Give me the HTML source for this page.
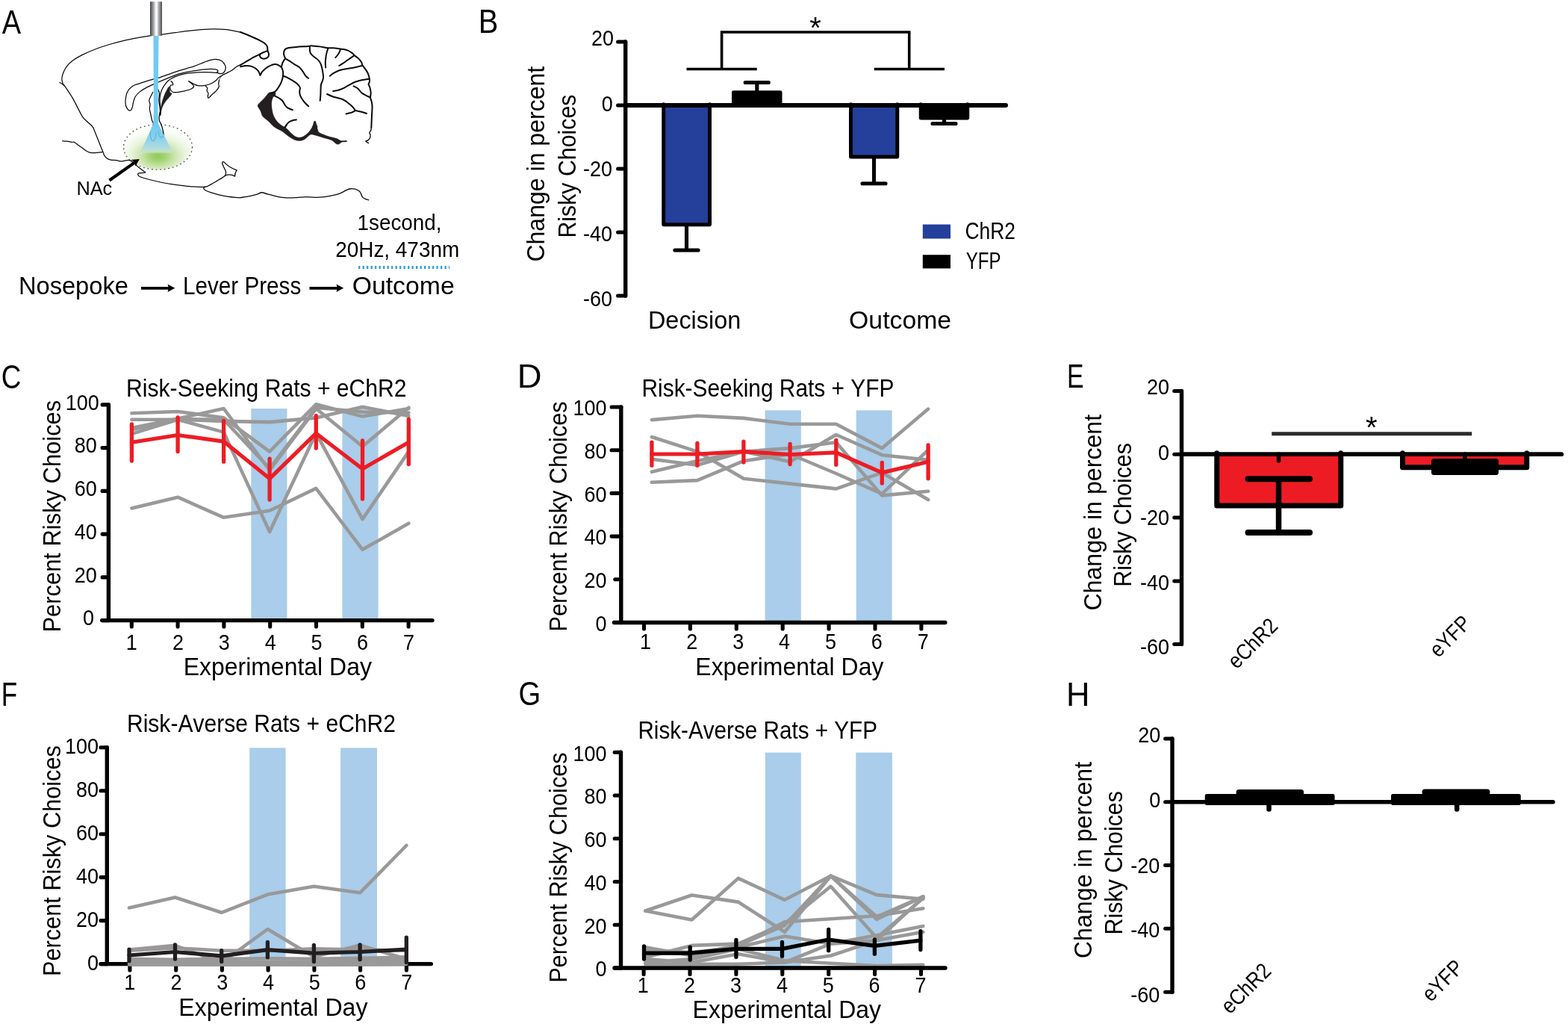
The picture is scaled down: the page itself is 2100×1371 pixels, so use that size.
<!DOCTYPE html>
<html><head><meta charset="utf-8"><title>Figure</title>
<style>
html,body{margin:0;padding:0;background:#fff;}
body{width:2100px;height:1371px;overflow:hidden;}
svg{display:block;font-family:'Liberation Sans', sans-serif;font-kerning:none;}
text{font-kerning:none;}
</style></head>
<body>
<svg width="2100" height="1371" viewBox="0 0 2100 1371">
<rect width="2100" height="1371" fill="#fff"/>
<defs>
<radialGradient id="glow" cx="0.5" cy="0.69" r="0.56" fx="0.5" fy="0.7"><stop offset="0" stop-color="#8fca55"/><stop offset="0.22" stop-color="#a6d578"/><stop offset="0.45" stop-color="#cbe5ae"/><stop offset="0.7" stop-color="#e8f3dc"/><stop offset="0.9" stop-color="#f6faf1"/><stop offset="1" stop-color="#fbfdf8"/></radialGradient>
<linearGradient id="fib" x1="0" x2="1" y1="0" y2="0"><stop offset="0" stop-color="#3e3e40"/><stop offset="0.12" stop-color="#6b6c6f"/><stop offset="0.3" stop-color="#a8a9ac"/><stop offset="0.47" stop-color="#f3f3f4"/><stop offset="0.56" stop-color="#ffffff"/><stop offset="0.7" stop-color="#b4b5b8"/><stop offset="0.88" stop-color="#77787b"/><stop offset="1" stop-color="#464648"/></linearGradient>
<linearGradient id="cone" x1="0" x2="0" y1="0" y2="1"><stop offset="0" stop-color="#6ecbf2"/><stop offset="0.45" stop-color="#86d0ee"/><stop offset="0.8" stop-color="#addbe0"/><stop offset="0.95" stop-color="#c3e3cf" stop-opacity="0.9"/><stop offset="1" stop-color="#cfe8c8" stop-opacity="0.3"/></linearGradient>
</defs>
<ellipse cx="211.5" cy="196.9" rx="45.6" ry="29.8" fill="url(#glow)"/>
<ellipse cx="211.5" cy="196.9" rx="46" ry="30.2" fill="none" stroke="#454545" stroke-width="1.3" stroke-dasharray="1.7 3.9"/>
<g transform="translate(60,0) scale(0.12476)" fill="none" stroke="#0a0a0a" stroke-width="10.0" stroke-linecap="round" stroke-linejoin="round">
<path d="M1335.0,930.0 C1340.8,934.2 1340.5,976.7 1345.0,990.0 C1349.5,1003.3 1369.5,994.2 1362.0,1010.0 C1354.5,1025.8 1316.7,1061.7 1300.0,1085.0 C1283.3,1108.3 1272.0,1126.7 1262.0,1150.0 C1252.0,1173.3 1242.0,1228.3 1240.0,1225.0 C1238.0,1221.7 1243.3,1162.5 1250.0,1130.0 C1256.7,1097.5 1270.0,1057.5 1280.0,1030.0 C1290.0,1002.5 1300.8,981.7 1310.0,965.0 C1319.2,948.3 1329.2,925.8 1335.0,930.0Z" fill="#231f20" stroke="#231f20" stroke-width="3"/>
<path d="M1905.0,806.0 C1904.2,806.8 1886.2,830.7 1880.0,840.0 C1873.8,849.3 1867.2,862.8 1868.0,862.0 C1868.8,861.2 1878.8,844.3 1885.0,835.0 C1891.2,825.7 1905.8,805.2 1905.0,806.0Z" fill="#231f20" stroke="#231f20" stroke-width="3"/>
<path d="M2100.0,345.0 C2075.0,340.5 2000.0,323.5 1950.0,318.0 C1900.0,312.5 1858.3,310.8 1800.0,312.0 C1741.7,313.2 1666.7,318.7 1600.0,325.0 C1533.3,331.3 1456.7,342.5 1400.0,350.0 C1343.3,357.5 1305.0,364.5 1260.0,370.0 C1215.0,375.5 1173.3,377.2 1130.0,383.0 C1086.7,388.8 1046.7,396.3 1000.0,405.0 C953.3,413.7 900.0,423.3 850.0,435.0 C800.0,446.7 750.0,460.0 700.0,475.0 C650.0,490.0 600.0,505.8 550.0,525.0 C500.0,544.2 441.7,569.2 400.0,590.0 C358.3,610.8 328.3,628.3 300.0,650.0 C271.7,671.7 247.5,696.7 230.0,720.0 C212.5,743.3 202.8,768.3 195.0,790.0 C187.2,811.7 183.0,831.7 183.0,850.0 C183.0,868.3 189.7,887.5 195.0,900.0 C200.3,912.5 197.5,899.2 215.0,925.0 C232.5,950.8 269.2,1001.7 300.0,1055.0 C330.8,1108.3 375.0,1204.2 400.0,1245.0 C425.0,1285.8 433.3,1283.3 450.0,1300.0 C466.7,1316.7 488.3,1333.2 500.0,1345.0 C511.7,1356.8 516.7,1366.7 520.0,1371.0"/>
<path d="M160.0,885.0 C164.2,887.5 176.7,893.8 185.0,900.0 C193.3,906.2 205.8,918.3 210.0,922.0"/>
<path d="M1240.0,830.0 C1266.7,820.3 1340.0,791.7 1400.0,772.0 C1460.0,752.3 1550.0,728.7 1600.0,712.0 C1650.0,695.3 1670.0,683.2 1700.0,672.0 C1730.0,660.8 1756.7,650.8 1780.0,645.0 C1803.3,639.2 1820.0,635.3 1840.0,637.0 C1860.0,638.7 1884.2,644.5 1900.0,655.0 C1915.8,665.5 1928.3,685.8 1935.0,700.0 C1941.7,714.2 1942.8,726.3 1940.0,740.0 C1937.2,753.7 1928.0,773.7 1918.0,782.0 C1908.0,790.3 1891.3,791.2 1880.0,790.0 C1868.7,788.8 1853.3,779.7 1850.0,775.0 C1846.7,770.3 1862.5,767.0 1860.0,762.0 C1857.5,757.0 1853.3,748.3 1835.0,745.0 C1816.7,741.7 1789.2,739.5 1750.0,742.0 C1710.8,744.5 1650.0,752.0 1600.0,760.0 C1550.0,768.0 1486.7,780.8 1450.0,790.0 C1413.3,799.2 1421.7,798.3 1380.0,815.0 C1338.3,831.7 1246.7,870.0 1200.0,890.0 C1153.3,910.0 1130.0,919.2 1100.0,935.0 C1070.0,950.8 1041.7,967.5 1020.0,985.0 C998.3,1002.5 981.7,1020.8 970.0,1040.0 C958.3,1059.2 955.0,1081.7 950.0,1100.0 C945.0,1118.3 944.7,1135.8 940.0,1150.0 C935.3,1164.2 929.5,1180.3 922.0,1185.0 C914.5,1189.7 903.3,1185.5 895.0,1178.0 C886.7,1170.5 876.8,1156.3 872.0,1140.0 C867.2,1123.7 863.8,1105.0 866.0,1080.0 C868.2,1055.0 872.7,1015.8 885.0,990.0 C897.3,964.2 917.5,940.8 940.0,925.0 C962.5,909.2 993.3,904.5 1020.0,895.0 C1046.7,885.5 1063.3,878.8 1100.0,868.0 C1136.7,857.2 1216.7,836.3 1240.0,830.0"/>
<path d="M1850.0,782.0 C1838.3,781.0 1813.3,777.0 1780.0,776.0 C1746.7,775.0 1696.7,773.3 1650.0,776.0 C1603.3,778.7 1541.7,784.3 1500.0,792.0 C1458.3,799.7 1428.3,810.3 1400.0,822.0 C1371.7,833.7 1350.0,845.7 1330.0,862.0 C1310.0,878.3 1293.3,900.3 1280.0,920.0 C1266.7,939.7 1257.5,958.3 1250.0,980.0 C1242.5,1001.7 1237.0,1025.0 1235.0,1050.0 C1233.0,1075.0 1236.3,1105.0 1238.0,1130.0 C1239.7,1155.0 1244.7,1182.5 1245.0,1200.0 C1245.3,1217.5 1240.8,1229.2 1240.0,1235.0"/>
<path d="M1355.0,870.0 C1357.8,873.3 1368.5,883.3 1372.0,890.0 C1375.5,896.7 1379.3,905.8 1376.0,910.0 C1372.7,914.2 1357.2,910.0 1352.0,915.0 C1346.8,920.0 1344.5,930.5 1345.0,940.0 C1345.5,949.5 1349.5,963.7 1355.0,972.0 C1360.5,980.3 1367.2,987.0 1378.0,990.0 C1388.8,993.0 1399.7,992.3 1420.0,990.0 C1440.3,987.7 1476.7,981.0 1500.0,976.0 C1523.3,971.0 1543.3,967.7 1560.0,960.0 C1576.7,952.3 1596.7,940.0 1600.0,930.0 C1603.3,920.0 1589.2,909.7 1580.0,900.0 C1570.8,890.3 1550.8,876.7 1545.0,872.0"/>
<path d="M1545.0,872.0 C1554.2,877.0 1582.5,894.0 1600.0,902.0 C1617.5,910.0 1630.0,917.7 1650.0,920.0 C1670.0,922.3 1698.3,919.3 1720.0,916.0 C1741.7,912.7 1761.7,907.7 1780.0,900.0 C1798.3,892.3 1815.0,881.7 1830.0,870.0 C1845.0,858.3 1857.5,840.3 1870.0,830.0 C1882.5,819.7 1883.3,819.7 1905.0,808.0 C1926.7,796.3 1974.2,775.5 2000.0,760.0 C2025.8,744.5 2043.3,725.8 2060.0,715.0 C2076.7,704.2 2093.3,698.3 2100.0,695.0"/>
<path d="M1725.0,925.0 C1728.3,928.3 1742.5,936.7 1745.0,945.0 C1747.5,953.3 1738.3,965.8 1740.0,975.0 C1741.7,984.2 1753.3,990.0 1755.0,1000.0 C1756.7,1010.0 1749.2,1026.7 1750.0,1035.0 C1750.8,1043.3 1751.7,1054.2 1760.0,1050.0 C1768.3,1045.8 1786.7,1022.5 1800.0,1010.0 C1813.3,997.5 1828.3,988.3 1840.0,975.0 C1851.7,961.7 1865.8,942.5 1870.0,930.0 C1874.2,917.5 1864.7,911.7 1865.0,900.0 C1865.3,888.3 1870.8,866.7 1872.0,860.0"/>
<path d="M1160.0,990.0 C1155.0,1000.0 1136.7,1034.7 1130.0,1050.0 C1123.3,1065.3 1120.0,1070.3 1120.0,1082.0 C1120.0,1093.7 1129.2,1105.3 1130.0,1120.0 C1130.8,1134.7 1123.7,1151.7 1125.0,1170.0 C1126.3,1188.3 1133.8,1210.0 1138.0,1230.0 C1142.2,1250.0 1145.0,1273.3 1150.0,1290.0 C1155.0,1306.7 1165.0,1323.3 1168.0,1330.0"/>
<path d="M1215.0,960.0 C1217.5,966.7 1228.3,980.0 1230.0,1000.0 C1231.7,1020.0 1224.2,1055.0 1225.0,1080.0 C1225.8,1105.0 1232.5,1124.2 1235.0,1150.0 C1237.5,1175.8 1239.2,1220.8 1240.0,1235.0"/>
</g>
<g transform="translate(322,0) scale(0.12476)" fill="none" stroke="#0a0a0a" stroke-width="16.0" stroke-linecap="round" stroke-linejoin="round">
<path d="M330.0,990.0 C341.7,987.5 362.5,980.0 370.0,985.0 C377.5,990.0 378.3,1010.0 375.0,1020.0 C371.7,1030.0 356.7,1031.7 350.0,1045.0 C343.3,1058.3 336.7,1077.5 335.0,1100.0 C333.3,1122.5 335.8,1155.0 340.0,1180.0 C344.2,1205.0 350.0,1228.3 360.0,1250.0 C370.0,1271.7 385.0,1293.3 400.0,1310.0 C415.0,1326.7 435.0,1339.8 450.0,1350.0 C465.0,1360.2 501.7,1367.5 490.0,1371.0 C478.3,1374.5 411.7,1382.8 380.0,1371.0 C348.3,1359.2 323.3,1320.2 300.0,1300.0 C276.7,1279.8 254.2,1268.3 240.0,1250.0 C225.8,1231.7 224.2,1209.2 215.0,1190.0 C205.8,1170.8 185.8,1150.0 185.0,1135.0 C184.2,1120.0 197.5,1114.2 210.0,1100.0 C222.5,1085.8 245.0,1066.7 260.0,1050.0 C275.0,1033.3 288.3,1010.0 300.0,1000.0 C311.7,990.0 318.3,992.5 330.0,990.0Z" fill="#231f20" stroke="#231f20" stroke-width="3"/>
<path d="M790.0,1305.0 C794.2,1298.3 800.8,1295.8 805.0,1300.0 C809.2,1304.2 811.7,1318.2 815.0,1330.0 C818.3,1341.8 832.5,1364.2 825.0,1371.0 C817.5,1377.8 777.5,1376.2 770.0,1371.0 C762.5,1365.8 776.7,1351.0 780.0,1340.0 C783.3,1329.0 785.8,1311.7 790.0,1305.0Z" fill="#231f20" stroke="#231f20" stroke-width="3"/>
<path d="M0.0,345.0 C16.7,351.7 66.7,370.8 100.0,385.0 C133.3,399.2 173.3,416.7 200.0,430.0 C226.7,443.3 245.3,453.3 260.0,465.0 C274.7,476.7 282.7,486.7 288.0,500.0 C293.3,513.3 289.2,531.7 292.0,545.0 C294.8,558.3 304.3,568.8 305.0,580.0 C305.7,591.2 303.2,603.7 296.0,612.0 C288.8,620.3 273.3,627.8 262.0,630.0 C250.7,632.2 237.0,629.7 228.0,625.0 C219.0,620.3 210.7,609.5 208.0,602.0 C205.3,594.5 211.3,583.7 212.0,580.0"/>
<path d="M292.0,545.0 C283.3,548.3 253.3,559.2 240.0,565.0 C226.7,570.8 227.0,572.5 212.0,580.0 C197.0,587.5 172.0,598.3 150.0,610.0 C128.0,621.7 105.0,635.3 80.0,650.0 C55.0,664.7 13.3,690.0 0.0,698.0"/>
<path d="M0.0,715.0 C10.0,713.3 40.0,705.5 60.0,705.0 C80.0,704.5 101.7,706.2 120.0,712.0 C138.3,717.8 156.7,729.5 170.0,740.0 C183.3,750.5 193.0,763.3 200.0,775.0 C207.0,786.7 207.0,810.0 212.0,810.0 C217.0,810.0 220.3,787.5 230.0,775.0 C239.7,762.5 255.0,746.7 270.0,735.0 C285.0,723.3 303.3,712.5 320.0,705.0 C336.7,697.5 355.0,690.8 370.0,690.0 C385.0,689.2 398.3,694.7 410.0,700.0 C421.7,705.3 432.5,712.0 440.0,722.0 C447.5,732.0 452.0,747.0 455.0,760.0 C458.0,773.0 458.8,785.0 458.0,800.0 C457.2,815.0 454.7,833.3 450.0,850.0 C445.3,866.7 438.3,883.3 430.0,900.0 C421.7,916.7 410.0,935.8 400.0,950.0 C390.0,964.2 381.7,976.7 370.0,985.0 C358.3,993.3 336.7,997.5 330.0,1000.0"/>
<path d="M440.0,722.0 C441.7,715.0 445.3,692.8 450.0,680.0 C454.7,667.2 462.7,653.7 468.0,645.0 C473.3,636.3 481.7,635.5 482.0,628.0 C482.3,620.5 472.8,609.7 470.0,600.0 C467.2,590.3 464.2,580.8 465.0,570.0 C465.8,559.2 467.5,544.2 475.0,535.0 C482.5,525.8 489.2,520.0 510.0,515.0 C530.8,510.0 568.3,507.8 600.0,505.0 C631.7,502.2 675.8,499.7 700.0,498.0 C724.2,496.3 735.0,496.3 745.0,495.0 C755.0,493.7 742.5,489.2 760.0,490.0 C777.5,490.8 820.0,495.8 850.0,500.0 C880.0,504.2 915.0,512.5 940.0,515.0 C965.0,517.5 977.5,513.3 1000.0,515.0 C1022.5,516.7 1050.0,520.8 1075.0,525.0 C1100.0,529.2 1129.2,532.5 1150.0,540.0 C1170.8,547.5 1186.7,560.0 1200.0,570.0 C1213.3,580.0 1218.3,590.0 1230.0,600.0 C1241.7,610.0 1258.3,618.3 1270.0,630.0 C1281.7,641.7 1293.3,658.3 1300.0,670.0 C1306.7,681.7 1303.3,688.3 1310.0,700.0 C1316.7,711.7 1330.0,725.0 1340.0,740.0 C1350.0,755.0 1362.5,772.5 1370.0,790.0 C1377.5,807.5 1382.5,830.0 1385.0,845.0 C1387.5,860.0 1386.7,870.0 1385.0,880.0 C1383.3,890.0 1374.2,895.0 1375.0,905.0 C1375.8,915.0 1385.8,924.2 1390.0,940.0 C1394.2,955.8 1399.2,982.5 1400.0,1000.0 C1400.8,1017.5 1393.3,1028.3 1395.0,1045.0 C1396.7,1061.7 1406.7,1082.5 1410.0,1100.0 C1413.3,1117.5 1415.0,1125.0 1415.0,1150.0 C1415.0,1175.0 1411.7,1213.2 1410.0,1250.0 C1408.3,1286.8 1405.8,1350.8 1405.0,1371.0"/>
<path d="M482.0,630.0 C488.3,633.3 503.7,640.0 520.0,650.0 C536.3,660.0 561.7,678.3 580.0,690.0 C598.3,701.7 615.8,708.3 630.0,720.0 C644.2,731.7 655.0,746.7 665.0,760.0 C675.0,773.3 682.5,789.2 690.0,800.0 C697.5,810.8 703.3,818.3 710.0,825.0 C716.7,831.7 726.7,837.5 730.0,840.0"/>
<path d="M455.0,815.0 C462.5,817.5 482.5,821.7 500.0,830.0 C517.5,838.3 541.7,853.3 560.0,865.0 C578.3,876.7 596.7,887.5 610.0,900.0 C623.3,912.5 635.8,926.7 640.0,940.0 C644.2,953.3 635.0,966.7 635.0,980.0 C635.0,993.3 635.8,1006.7 640.0,1020.0 C644.2,1033.3 651.7,1046.7 660.0,1060.0 C668.3,1073.3 678.3,1086.7 690.0,1100.0 C701.7,1113.3 723.3,1133.3 730.0,1140.0"/>
<path d="M745.0,500.0 C745.0,506.7 743.3,527.5 745.0,540.0 C746.7,552.5 747.5,563.3 755.0,575.0 C762.5,586.7 777.5,599.2 790.0,610.0 C802.5,620.8 818.3,628.3 830.0,640.0 C841.7,651.7 852.5,665.0 860.0,680.0 C867.5,695.0 870.8,713.3 875.0,730.0 C879.2,746.7 882.5,763.3 885.0,780.0 C887.5,796.7 890.8,815.0 890.0,830.0 C889.2,845.0 884.2,856.7 880.0,870.0 C875.8,883.3 868.0,895.0 865.0,910.0 C862.0,925.0 862.8,941.7 862.0,960.0 C861.2,978.3 861.2,1000.0 860.0,1020.0 C858.8,1040.0 855.8,1070.0 855.0,1080.0"/>
<path d="M940.0,520.0 C937.5,528.3 929.2,551.7 925.0,570.0 C920.8,588.3 917.2,611.7 915.0,630.0 C912.8,648.3 912.0,664.2 912.0,680.0 C912.0,695.8 914.5,717.5 915.0,725.0"/>
<path d="M1075.0,530.0 C1072.5,535.8 1065.8,554.2 1060.0,565.0 C1054.2,575.8 1046.7,586.2 1040.0,595.0 C1033.3,603.8 1023.3,614.2 1020.0,618.0"/>
<path d="M1215.0,600.0 C1204.2,607.5 1169.2,631.7 1150.0,645.0 C1130.8,658.3 1115.0,670.0 1100.0,680.0 C1085.0,690.0 1066.7,700.8 1060.0,705.0"/>
<path d="M1305.0,705.0 C1290.8,708.3 1249.2,719.2 1220.0,725.0 C1190.8,730.8 1156.7,735.0 1130.0,740.0 C1103.3,745.0 1081.7,747.5 1060.0,755.0 C1038.3,762.5 1016.7,775.0 1000.0,785.0 C983.3,795.0 966.7,810.0 960.0,815.0"/>
<path d="M1380.0,848.0 C1366.7,850.0 1325.0,854.7 1300.0,860.0 C1275.0,865.3 1251.7,871.7 1230.0,880.0 C1208.3,888.3 1190.0,899.2 1170.0,910.0 C1150.0,920.8 1130.0,935.3 1110.0,945.0 C1090.0,954.7 1069.2,962.5 1050.0,968.0 C1030.8,973.5 1004.2,976.3 995.0,978.0"/>
<path d="M1215.0,925.0 C1222.5,929.2 1245.8,938.3 1260.0,950.0 C1274.2,961.7 1285.0,982.5 1300.0,995.0 C1315.0,1007.5 1334.5,1016.7 1350.0,1025.0 C1365.5,1033.3 1385.8,1041.7 1393.0,1045.0"/>
<path d="M930.0,1010.0 C941.7,1015.0 975.0,1031.7 1000.0,1040.0 C1025.0,1048.3 1058.3,1052.5 1080.0,1060.0 C1101.7,1067.5 1113.3,1074.2 1130.0,1085.0 C1146.7,1095.8 1165.8,1112.5 1180.0,1125.0 C1194.2,1137.5 1206.7,1150.0 1215.0,1160.0 C1223.3,1170.0 1232.5,1177.5 1230.0,1185.0 C1227.5,1192.5 1210.8,1200.0 1200.0,1205.0 C1189.2,1210.0 1175.8,1212.2 1165.0,1215.0 C1154.2,1217.8 1140.0,1220.8 1135.0,1222.0"/>
<path d="M1230.0,1185.0 C1241.7,1187.5 1279.2,1194.5 1300.0,1200.0 C1320.8,1205.5 1345.8,1215.0 1355.0,1218.0"/>
<path d="M370.0,1030.0 C376.7,1033.3 396.7,1041.7 410.0,1050.0 C423.3,1058.3 438.3,1066.7 450.0,1080.0 C461.7,1093.3 470.0,1116.7 480.0,1130.0 C490.0,1143.3 496.7,1151.7 510.0,1160.0 C523.3,1168.3 551.7,1176.7 560.0,1180.0"/>
<path d="M600.0,1285.0 C593.3,1286.2 573.3,1287.8 560.0,1292.0 C546.7,1296.2 531.7,1301.2 520.0,1310.0 C508.3,1318.8 497.5,1334.8 490.0,1345.0 C482.5,1355.2 477.5,1366.7 475.0,1371.0"/>
</g>
<g transform="translate(322,171) scale(0.12476)" fill="none" stroke="#0a0a0a" stroke-width="10.8" stroke-linecap="round" stroke-linejoin="round">
<path d="M380.0,0.0 C375.0,6.7 426.7,24.2 450.0,40.0 C473.3,55.8 498.3,80.0 520.0,95.0 C541.7,110.0 560.0,122.5 580.0,130.0 C600.0,137.5 621.7,140.8 640.0,140.0 C658.3,139.2 671.7,135.8 690.0,125.0 C708.3,114.2 731.7,82.5 750.0,75.0 C768.3,67.5 775.0,74.2 800.0,80.0 C825.0,85.8 870.0,100.8 900.0,110.0 C930.0,119.2 958.3,124.2 980.0,135.0 C1001.7,145.8 1016.7,168.3 1030.0,175.0 C1043.3,181.7 1050.0,178.3 1060.0,175.0 C1070.0,171.7 1076.7,159.2 1090.0,155.0 C1103.3,150.8 1132.5,152.8 1140.0,150.0 C1147.5,147.2 1145.0,139.7 1135.0,138.0 C1125.0,136.3 1097.5,143.8 1080.0,140.0 C1062.5,136.2 1051.7,122.5 1030.0,115.0 C1008.3,107.5 980.0,105.0 950.0,95.0 C920.0,85.0 870.0,67.5 850.0,55.0 C830.0,42.5 835.0,29.2 830.0,20.0 C825.0,10.8 830.0,3.3 820.0,0.0 C810.0,-3.3 783.3,-6.7 770.0,0.0 C756.7,6.7 753.3,25.8 740.0,40.0 C726.7,54.2 706.7,74.2 690.0,85.0 C673.3,95.8 656.7,103.3 640.0,105.0 C623.3,106.7 606.7,103.3 590.0,95.0 C573.3,86.7 558.3,70.8 540.0,55.0 C521.7,39.2 506.7,9.2 480.0,0.0 C453.3,-9.2 385.0,-6.7 380.0,0.0Z" fill="#231f20" stroke="#231f20" stroke-width="3"/>
<path d="M1405.0,0.0 C1404.2,5.0 1403.3,21.7 1400.0,30.0 C1396.7,38.3 1385.8,41.7 1385.0,50.0 C1384.2,58.3 1394.2,70.0 1395.0,80.0 C1395.8,90.0 1394.2,100.8 1390.0,110.0 C1385.8,119.2 1377.5,129.2 1370.0,135.0 C1362.5,140.8 1344.2,140.0 1345.0,145.0 C1345.8,150.0 1370.0,161.7 1375.0,165.0"/>
<path d="M0.0,750.0 C16.7,747.5 70.0,740.8 100.0,735.0 C130.0,729.2 158.7,721.7 180.0,715.0 C201.3,708.3 208.0,695.0 228.0,695.0 C248.0,695.0 271.3,707.5 300.0,715.0 C328.7,722.5 366.7,733.8 400.0,740.0 C433.3,746.2 466.7,750.3 500.0,752.0 C533.3,753.7 566.7,751.7 600.0,750.0 C633.3,748.3 666.7,742.3 700.0,742.0 C733.3,741.7 766.7,748.0 800.0,748.0 C833.3,748.0 866.7,745.8 900.0,742.0 C933.3,738.2 970.0,732.0 1000.0,725.0 C1030.0,718.0 1056.7,709.5 1080.0,700.0 C1103.3,690.5 1123.3,675.5 1140.0,668.0 C1156.7,660.5 1165.0,656.7 1180.0,655.0 C1195.0,653.3 1214.2,653.8 1230.0,658.0 C1245.8,662.2 1264.2,671.3 1275.0,680.0 C1285.8,688.7 1289.2,699.2 1295.0,710.0 C1300.8,720.8 1302.5,735.8 1310.0,745.0 C1317.5,754.2 1329.2,760.0 1340.0,765.0 C1350.8,770.0 1369.2,773.3 1375.0,775.0"/>
<path d="M475.0,0.0 L500.0,-30.0"/>
</g>
<g transform="translate(60,171) scale(0.12476)" fill="none" stroke="#0a0a0a" stroke-width="10.0" stroke-linecap="round" stroke-linejoin="round">
<path d="M520.0,0.0 C526.7,16.7 546.7,66.7 560.0,100.0 C573.3,133.3 589.2,173.3 600.0,200.0 C610.8,226.7 618.3,243.3 625.0,260.0 C631.7,276.7 632.5,288.3 640.0,300.0 C647.5,311.7 658.3,322.5 670.0,330.0 C681.7,337.5 693.3,341.7 710.0,345.0 C726.7,348.3 751.7,347.5 770.0,350.0 C788.3,352.5 803.3,359.7 820.0,360.0 C836.7,360.3 855.0,353.7 870.0,352.0 C885.0,350.3 895.0,345.3 910.0,350.0 C925.0,354.7 946.7,370.0 960.0,380.0 C973.3,390.0 980.0,400.8 990.0,410.0 C1000.0,419.2 1008.3,425.8 1020.0,435.0 C1031.7,444.2 1050.0,457.5 1060.0,465.0 C1070.0,472.5 1083.3,476.7 1080.0,480.0 C1076.7,483.3 1052.5,483.3 1040.0,485.0 C1027.5,486.7 1011.7,486.7 1005.0,490.0 C998.3,493.3 997.5,499.2 1000.0,505.0 C1002.5,510.8 1006.7,518.3 1020.0,525.0 C1033.3,531.7 1050.0,536.7 1080.0,545.0 C1110.0,553.3 1155.0,565.0 1200.0,575.0 C1245.0,585.0 1300.0,596.7 1350.0,605.0 C1400.0,613.3 1458.3,620.5 1500.0,625.0 C1541.7,629.5 1563.3,630.3 1600.0,632.0 C1636.7,633.7 1690.0,638.7 1720.0,635.0 C1750.0,631.3 1758.3,620.8 1780.0,610.0 C1801.7,599.2 1830.0,581.7 1850.0,570.0 C1870.0,558.3 1885.8,549.2 1900.0,540.0 C1914.2,530.8 1929.2,519.2 1935.0,515.0"/>
<path d="M190.0,142.0 C198.3,142.5 223.3,142.8 240.0,145.0 C256.7,147.2 277.5,153.3 290.0,155.0 C302.5,156.7 305.0,150.8 315.0,155.0 C325.0,159.2 335.8,170.0 350.0,180.0 C364.2,190.0 385.0,204.2 400.0,215.0 C415.0,225.8 426.7,236.7 440.0,245.0 C453.3,253.3 463.3,260.8 480.0,265.0 C496.7,269.2 521.7,270.0 540.0,270.0 C558.3,270.0 576.7,266.7 590.0,265.0 C603.3,263.3 615.0,260.8 620.0,260.0"/>
<path d="M1720.0,635.0 C1717.5,637.5 1705.0,644.2 1705.0,650.0 C1705.0,655.8 1707.5,662.5 1720.0,670.0 C1732.5,677.5 1755.0,686.7 1780.0,695.0 C1805.0,703.3 1840.0,712.8 1870.0,720.0 C1900.0,727.2 1930.0,733.3 1960.0,738.0 C1990.0,742.7 2026.7,746.0 2050.0,748.0 C2073.3,750.0 2091.7,749.7 2100.0,750.0"/>
</g>
<g transform="translate(60,171) scale(0.12476)" fill="none" stroke="#0a0a0a" stroke-width="10.4" stroke-linejoin="miter"><path d="M1935,515 Q1955,480 1930,440 Q1905,395 1905,375 Q1910,360 1925,370 Q1980,430 2060,455 Q2040,485 2040,520 Q1990,490 1935,515Z"/></g>
<rect x="201.0" y="2.2" width="16.0" height="45.8" fill="url(#fib)" stroke="none" stroke-width="0" />
<polygon points="205.2,166 212.1,166 231.8,205 187.8,205" fill="url(#cone)"/>
<polygon points="205.4,48 212.5,48 211.5,150 212.1,166.5 205.2,166.5 205.9,150" fill="#70cbf1"/>
<path d="M201.6,176.3 C201.2,184 202.5,188.5 204.9,188.7 C207.3,188.5 208.8,183 208.9,177.6 M212.1,175 C212.6,181 214.5,184 216.3,184.1 C218.5,183.5 220,180.5 220,178.9" fill="none" stroke="#5fb2dc" stroke-width="1.1"/>
<path d="M214.1,150 C213.4,154 212.1,159.9 214.1,163.1 C216.7,167.1 218,173 219,178.9" fill="none" stroke="#0a0a0a" stroke-width="1.3" stroke-linecap="round"/>
<line x1="146.5" y1="241.5" x2="181" y2="217.1" stroke="#000" stroke-width="4.1"/>
<polygon points="186.9,213 174.9,214 180.2,216.4 181.4,222.6" fill="#000"/>
<text transform="translate(102.41,260.80) scale(0.9525,1)" font-size="26.6" fill="#000" >NAc</text>
<text transform="translate(478.51,308.30) scale(0.9670,1)" font-size="28.8" fill="#000" >1second,</text>
<text transform="translate(449.20,343.70) scale(0.9625,1)" font-size="29.0" fill="#000" >20Hz, 473nm</text>
<line x1="480" y1="357.9" x2="602" y2="357.9" stroke="#2e9fd8" stroke-width="4" stroke-dasharray="2.3 3.2"/>
<text transform="translate(24.91,394.40) scale(0.9745,1)" font-size="33.5" fill="#000" >Nosepoke</text>
<text transform="translate(245.05,394.40) scale(0.8857,1)" font-size="33.5" fill="#000" >Lever Press</text>
<text transform="translate(471.70,394.40) scale(1.0081,1)" font-size="33.5" fill="#000" >Outcome</text>
<line x1="189" y1="385.8" x2="229.3" y2="385.8" stroke="#000" stroke-width="3.7"/>
<path d="M234.3,385.8 L224.5,380.6 Q226.70000000000002,385.8 224.5,391.0Z" fill="#000"/>
<line x1="414.5" y1="385.8" x2="455.2" y2="385.8" stroke="#000" stroke-width="3.7"/>
<path d="M460.2,385.8 L450.4,380.6 Q452.59999999999997,385.8 450.4,391.0Z" fill="#000"/>
<text transform="translate(2.70,45.30) scale(0.8548,1)" font-size="44.5" fill="#000" >A</text>
<rect x="888.70" y="139.75" width="61.85" height="161.05" fill="#24409a"/>
<path d="M888.70,139.75 V300.80 H950.55 V139.75" fill="none" stroke="#000" stroke-width="4.9" stroke-linecap="round" stroke-linejoin="round"/>
<line x1="919.5" y1="303.0" x2="919.5" y2="335.0" stroke="#000" stroke-width="5.1" stroke-linecap="butt" />
<line x1="903.9" y1="335.0" x2="935.1" y2="335.0" stroke="#000" stroke-width="5.1" stroke-linecap="round" />
<rect x="982.45" y="123.70" width="62.60" height="17.10" fill="#000" stroke="#000" stroke-width="4.9" stroke-linejoin="round"/>
<line x1="1013.8" y1="122.0" x2="1013.8" y2="110.5" stroke="#000" stroke-width="5.1" stroke-linecap="butt" />
<line x1="998.2" y1="110.5" x2="1029.3" y2="110.5" stroke="#000" stroke-width="5.1" stroke-linecap="round" />
<rect x="1139.45" y="139.75" width="62.35" height="70.30" fill="#24409a"/>
<path d="M1139.45,139.75 V210.05 H1201.80 V139.75" fill="none" stroke="#000" stroke-width="4.9" stroke-linecap="round" stroke-linejoin="round"/>
<line x1="1170.5" y1="212.0" x2="1170.5" y2="245.8" stroke="#000" stroke-width="5.1" stroke-linecap="butt" />
<line x1="1155.0" y1="245.8" x2="1186.0" y2="245.8" stroke="#000" stroke-width="5.1" stroke-linecap="round" />
<rect x="1233.20" y="139.75" width="62.60" height="18.30" fill="#000"/>
<path d="M1233.20,139.75 V158.05 H1295.80 V139.75" fill="none" stroke="#000" stroke-width="4.9" stroke-linecap="round" stroke-linejoin="round"/>
<line x1="1264.5" y1="160.0" x2="1264.5" y2="165.5" stroke="#000" stroke-width="5.1" stroke-linecap="butt" />
<line x1="1249.0" y1="165.5" x2="1280.0" y2="165.5" stroke="#000" stroke-width="5.1" stroke-linecap="round" />
<line x1="837.7" y1="56.0" x2="837.7" y2="396.0" stroke="#000" stroke-width="5.4" stroke-linecap="round" />
<line x1="827.6" y1="56.0" x2="837.7" y2="56.0" stroke="#000" stroke-width="5.1" stroke-linecap="round" />
<line x1="827.6" y1="141.0" x2="837.7" y2="141.0" stroke="#000" stroke-width="5.1" stroke-linecap="round" />
<line x1="827.6" y1="226.0" x2="837.7" y2="226.0" stroke="#000" stroke-width="5.1" stroke-linecap="round" />
<line x1="827.6" y1="311.0" x2="837.7" y2="311.0" stroke="#000" stroke-width="5.1" stroke-linecap="round" />
<line x1="827.6" y1="396.0" x2="837.7" y2="396.0" stroke="#000" stroke-width="5.1" stroke-linecap="round" />
<line x1="837.7" y1="141.0" x2="1347.1" y2="141.0" stroke="#000" stroke-width="5.8" stroke-linecap="round" />
<path d="M919.5,92.5 H1013.75 M1170.75,92.5 H1265 M966.6,92.5 V43 H1217.7 V92.5" fill="none" stroke="#000" stroke-width="3.6"/>
<text transform="translate(1084.20,51.30) scale(1.0000,1)" font-size="40.0" fill="#000">*</text>
<text transform="translate(791.94,61.30) scale(0.9000,1)" font-size="30.0" fill="#000">20</text>
<text transform="translate(805.63,148.80) scale(0.9000,1)" font-size="30.0" fill="#000">0</text>
<text transform="translate(781.10,235.90) scale(0.9000,1)" font-size="30.0" fill="#000">-20</text>
<text transform="translate(781.10,322.70) scale(0.9000,1)" font-size="30.0" fill="#000">-40</text>
<text transform="translate(781.10,409.60) scale(0.9000,1)" font-size="30.0" fill="#000">-60</text>
<text transform="translate(728.90,350.60) rotate(-90) scale(0.9568,1)" font-size="33.5" fill="#000">Change in percent</text>
<text transform="translate(771.00,318.60) rotate(-90) scale(0.9055,1)" font-size="33.5" fill="#000">Risky Choices</text>
<text transform="translate(867.92,440.00) scale(0.9682,1)" font-size="33.5" fill="#000" >Decision</text>
<text transform="translate(1137.10,439.60) scale(1.0081,1)" font-size="33.5" fill="#000" >Outcome</text>
<rect x="1235.8" y="300.5" width="37.2" height="19.0" fill="#24409a" stroke="none" stroke-width="0" />
<rect x="1235.8" y="341.2" width="37.2" height="18.2" fill="#000" stroke="none" stroke-width="0" />
<text transform="translate(1292.58,320.00) scale(0.8501,1)" font-size="31.0" fill="#000" >ChR2</text>
<text transform="translate(1293.76,359.70) scale(0.7745,1)" font-size="31.0" fill="#000" >YFP</text>
<text transform="translate(640.72,44.30) scale(0.8947,1)" font-size="44.5" fill="#000" >B</text>
<rect x="336.3" y="547.0" width="48.1" height="283.6" fill="#a9cdea" stroke="none" stroke-width="0" />
<rect x="458.4" y="547.0" width="48.2" height="283.6" fill="#a9cdea" stroke="none" stroke-width="0" />
<polyline points="176.4,680.4 238.1,665.7 299.6,692.8 361.1,683.8 423.3,653.9 485.5,735.8 547.3,700.7" fill="none" stroke="#999999" stroke-width="4.6" stroke-linecap="round" stroke-linejoin="round"/>
<polyline points="176.4,561.7 238.1,561.7 299.6,563.9 361.1,565.1 423.3,559.4 485.5,544.7 547.3,557.1" fill="none" stroke="#999999" stroke-width="4.6" stroke-linecap="round" stroke-linejoin="round"/>
<polyline points="176.4,553.3 238.1,551.0 299.6,559.4 361.1,604.6 423.3,541.3 485.5,557.6 547.3,547.0" fill="none" stroke="#999999" stroke-width="4.6" stroke-linecap="round" stroke-linejoin="round"/>
<polyline points="176.4,573.0 238.1,560.5 299.6,547.0 361.1,629.5 423.3,547.0 485.5,597.8 547.3,545.8" fill="none" stroke="#999999" stroke-width="4.6" stroke-linecap="round" stroke-linejoin="round"/>
<polyline points="176.4,580.9 238.1,561.7 299.6,578.6 361.1,712.1 423.3,579.8 485.5,695.1 547.3,604.6" fill="none" stroke="#999999" stroke-width="4.6" stroke-linecap="round" stroke-linejoin="round"/>
<polyline points="176.4,575.2 238.1,561.2 299.6,561.7 361.1,627.2 423.3,545.8 485.5,551.5 547.3,552.6" fill="none" stroke="#999999" stroke-width="4.6" stroke-linecap="round" stroke-linejoin="round"/>
<line x1="145.4" y1="541.9" x2="145.4" y2="830.6" stroke="#000" stroke-width="5.4" stroke-linecap="round" />
<line x1="136.8" y1="830.6" x2="579.0" y2="830.6" stroke="#000" stroke-width="5.4" stroke-linecap="round" />
<line x1="137.1" y1="830.6" x2="145.4" y2="830.6" stroke="#000" stroke-width="5.1" stroke-linecap="round" />
<line x1="137.1" y1="772.9" x2="145.4" y2="772.9" stroke="#000" stroke-width="5.1" stroke-linecap="round" />
<line x1="137.1" y1="715.1" x2="145.4" y2="715.1" stroke="#000" stroke-width="5.1" stroke-linecap="round" />
<line x1="137.1" y1="657.4" x2="145.4" y2="657.4" stroke="#000" stroke-width="5.1" stroke-linecap="round" />
<line x1="137.1" y1="599.6" x2="145.4" y2="599.6" stroke="#000" stroke-width="5.1" stroke-linecap="round" />
<line x1="137.1" y1="541.9" x2="145.4" y2="541.9" stroke="#000" stroke-width="5.1" stroke-linecap="round" />
<line x1="176.3" y1="830.6" x2="176.3" y2="839.0" stroke="#000" stroke-width="5.1" stroke-linecap="round" />
<line x1="238.1" y1="830.6" x2="238.1" y2="839.0" stroke="#000" stroke-width="5.1" stroke-linecap="round" />
<line x1="299.9" y1="830.6" x2="299.9" y2="839.0" stroke="#000" stroke-width="5.1" stroke-linecap="round" />
<line x1="361.7" y1="830.6" x2="361.7" y2="839.0" stroke="#000" stroke-width="5.1" stroke-linecap="round" />
<line x1="423.5" y1="830.6" x2="423.5" y2="839.0" stroke="#000" stroke-width="5.1" stroke-linecap="round" />
<line x1="485.3" y1="830.6" x2="485.3" y2="839.0" stroke="#000" stroke-width="5.1" stroke-linecap="round" />
<line x1="547.1" y1="830.6" x2="547.1" y2="839.0" stroke="#000" stroke-width="5.1" stroke-linecap="round" />
<line x1="176.4" y1="568.0" x2="176.4" y2="617.1" stroke="#ed1c24" stroke-width="5.3" stroke-linecap="round" />
<line x1="238.1" y1="558.9" x2="238.1" y2="604.6" stroke="#ed1c24" stroke-width="5.3" stroke-linecap="round" />
<line x1="299.6" y1="563.5" x2="299.6" y2="618.2" stroke="#ed1c24" stroke-width="5.3" stroke-linecap="round" />
<line x1="361.1" y1="614.1" x2="361.1" y2="669.1" stroke="#ed1c24" stroke-width="5.3" stroke-linecap="round" />
<line x1="423.3" y1="556.7" x2="423.3" y2="600.1" stroke="#ed1c24" stroke-width="5.3" stroke-linecap="round" />
<line x1="485.5" y1="589.9" x2="485.5" y2="668.0" stroke="#ed1c24" stroke-width="5.3" stroke-linecap="round" />
<line x1="547.3" y1="561.2" x2="547.3" y2="621.6" stroke="#ed1c24" stroke-width="5.3" stroke-linecap="round" />
<polyline points="176.4,592.2 238.1,582.5 299.6,591.1 361.1,640.8 423.3,580.2 485.5,627.7 547.3,592.2" fill="none" stroke="#ed1c24" stroke-width="5.2" stroke-linecap="round" stroke-linejoin="round"/>
<text transform="translate(111.03,837.40) scale(0.9000,1)" font-size="30.0" fill="#000">0</text>
<text transform="translate(99.74,779.66) scale(0.9000,1)" font-size="30.0" fill="#000">20</text>
<text transform="translate(99.74,721.92) scale(0.9000,1)" font-size="30.0" fill="#000">40</text>
<text transform="translate(99.74,664.18) scale(0.9000,1)" font-size="30.0" fill="#000">60</text>
<text transform="translate(99.74,606.44) scale(0.9000,1)" font-size="30.0" fill="#000">80</text>
<text transform="translate(87.79,548.70) scale(0.9000,1)" font-size="30.0" fill="#000">100</text>
<text transform="translate(168.84,869.60) scale(0.9000,1)" font-size="30.0" fill="#000">1</text>
<text transform="translate(231.01,869.60) scale(0.9000,1)" font-size="30.0" fill="#000">2</text>
<text transform="translate(292.87,869.60) scale(0.9000,1)" font-size="30.0" fill="#000">3</text>
<text transform="translate(354.67,869.60) scale(0.9000,1)" font-size="30.0" fill="#000">4</text>
<text transform="translate(416.41,869.60) scale(0.9000,1)" font-size="30.0" fill="#000">5</text>
<text transform="translate(478.11,869.60) scale(0.9000,1)" font-size="30.0" fill="#000">6</text>
<text transform="translate(539.97,869.60) scale(0.9000,1)" font-size="30.0" fill="#000">7</text>
<text transform="translate(245.66,903.80) scale(0.9543,1)" font-size="33.5" fill="#000" >Experimental Day</text>
<text transform="translate(81.00,846.55) rotate(-90) scale(0.9226,1)" font-size="33.5" fill="#000">Percent Risky Choices</text>
<text transform="translate(169.12,530.70) scale(0.8985,1)" font-size="33.5" fill="#000" >Risk-Seeking Rats + eChR2</text>
<text transform="translate(1.86,520.20) scale(0.8278,1)" font-size="44.5" fill="#000" >C</text>
<rect x="1024.6" y="549.4" width="48.2" height="284.1" fill="#a9cdea" stroke="none" stroke-width="0" />
<rect x="1146.7" y="549.4" width="47.9" height="284.1" fill="#a9cdea" stroke="none" stroke-width="0" />
<polyline points="872.9,562.1 933.9,556.7 995.9,559.9 1058.1,567.8 1119.8,567.8 1181.3,600.1 1243.1,547.6" fill="none" stroke="#999999" stroke-width="4.6" stroke-linecap="round" stroke-linejoin="round"/>
<polyline points="872.9,585.0 933.9,604.6 995.9,640.8 1058.1,647.6 1119.8,654.4 1181.3,632.9 1243.1,669.1" fill="none" stroke="#999999" stroke-width="4.6" stroke-linecap="round" stroke-linejoin="round"/>
<polyline points="872.9,614.8 933.9,622.7 995.9,604.6 1058.1,600.1 1119.8,592.2 1181.3,663.4 1243.1,657.8" fill="none" stroke="#999999" stroke-width="4.6" stroke-linecap="round" stroke-linejoin="round"/>
<polyline points="872.9,631.8 933.9,617.1 995.9,604.6 1058.1,618.2 1119.8,582.0 1181.3,609.2 1243.1,615.9" fill="none" stroke="#999999" stroke-width="4.6" stroke-linecap="round" stroke-linejoin="round"/>
<polyline points="872.9,645.8 933.9,643.1 995.9,617.1 1058.1,608.0 1119.8,634.0 1181.3,661.2 1243.1,602.4" fill="none" stroke="#999999" stroke-width="4.6" stroke-linecap="round" stroke-linejoin="round"/>
<line x1="831.8" y1="545.0" x2="831.8" y2="833.5" stroke="#000" stroke-width="5.4" stroke-linecap="round" />
<line x1="822.5" y1="833.5" x2="1265.8" y2="833.5" stroke="#000" stroke-width="5.4" stroke-linecap="round" />
<line x1="823.8" y1="833.5" x2="831.8" y2="833.5" stroke="#000" stroke-width="5.1" stroke-linecap="round" />
<line x1="823.8" y1="775.8" x2="831.8" y2="775.8" stroke="#000" stroke-width="5.1" stroke-linecap="round" />
<line x1="819.1" y1="718.1" x2="831.8" y2="718.1" stroke="#000" stroke-width="5.1" stroke-linecap="round" />
<line x1="819.1" y1="660.4" x2="831.8" y2="660.4" stroke="#000" stroke-width="5.1" stroke-linecap="round" />
<line x1="819.1" y1="602.7" x2="831.8" y2="602.7" stroke="#000" stroke-width="5.1" stroke-linecap="round" />
<line x1="819.1" y1="545.0" x2="831.8" y2="545.0" stroke="#000" stroke-width="5.1" stroke-linecap="round" />
<line x1="862.5" y1="833.5" x2="862.5" y2="841.9" stroke="#000" stroke-width="5.1" stroke-linecap="round" />
<line x1="924.4" y1="833.5" x2="924.4" y2="841.9" stroke="#000" stroke-width="5.1" stroke-linecap="round" />
<line x1="986.3" y1="833.5" x2="986.3" y2="841.9" stroke="#000" stroke-width="5.1" stroke-linecap="round" />
<line x1="1048.2" y1="833.5" x2="1048.2" y2="841.9" stroke="#000" stroke-width="5.1" stroke-linecap="round" />
<line x1="1110.1" y1="833.5" x2="1110.1" y2="841.9" stroke="#000" stroke-width="5.1" stroke-linecap="round" />
<line x1="1172.0" y1="833.5" x2="1172.0" y2="841.9" stroke="#000" stroke-width="5.1" stroke-linecap="round" />
<line x1="1233.9" y1="833.5" x2="1233.9" y2="841.9" stroke="#000" stroke-width="5.1" stroke-linecap="round" />
<line x1="872.9" y1="592.2" x2="872.9" y2="623.2" stroke="#ed1c24" stroke-width="5.3" stroke-linecap="round" />
<line x1="933.9" y1="593.3" x2="933.9" y2="623.2" stroke="#ed1c24" stroke-width="5.3" stroke-linecap="round" />
<line x1="995.9" y1="591.1" x2="995.9" y2="618.9" stroke="#ed1c24" stroke-width="5.3" stroke-linecap="round" />
<line x1="1058.1" y1="594.5" x2="1058.1" y2="621.6" stroke="#ed1c24" stroke-width="5.3" stroke-linecap="round" />
<line x1="1119.8" y1="589.3" x2="1119.8" y2="622.3" stroke="#ed1c24" stroke-width="5.3" stroke-linecap="round" />
<line x1="1181.3" y1="619.3" x2="1181.3" y2="647.1" stroke="#ed1c24" stroke-width="5.3" stroke-linecap="round" />
<line x1="1243.1" y1="596.0" x2="1243.1" y2="640.8" stroke="#ed1c24" stroke-width="5.3" stroke-linecap="round" />
<polyline points="872.9,608.0 933.9,608.0 995.9,604.6 1058.1,608.5 1119.8,605.8 1181.3,632.9 1243.1,618.2" fill="none" stroke="#ed1c24" stroke-width="5.2" stroke-linecap="round" stroke-linejoin="round"/>
<text transform="translate(797.53,844.70) scale(0.9000,1)" font-size="30.0" fill="#000">0</text>
<text transform="translate(782.54,787.00) scale(0.9000,1)" font-size="30.0" fill="#000">20</text>
<text transform="translate(782.54,729.30) scale(0.9000,1)" font-size="30.0" fill="#000">40</text>
<text transform="translate(782.54,671.60) scale(0.9000,1)" font-size="30.0" fill="#000">60</text>
<text transform="translate(782.54,613.90) scale(0.9000,1)" font-size="30.0" fill="#000">80</text>
<text transform="translate(767.49,556.20) scale(0.9000,1)" font-size="30.0" fill="#000">100</text>
<text transform="translate(856.94,869.30) scale(0.9000,1)" font-size="30.0" fill="#000">1</text>
<text transform="translate(919.21,869.30) scale(0.9000,1)" font-size="30.0" fill="#000">2</text>
<text transform="translate(981.17,869.30) scale(0.9000,1)" font-size="30.0" fill="#000">3</text>
<text transform="translate(1043.08,869.30) scale(0.9000,1)" font-size="30.0" fill="#000">4</text>
<text transform="translate(1104.91,869.30) scale(0.9000,1)" font-size="30.0" fill="#000">5</text>
<text transform="translate(1166.71,869.30) scale(0.9000,1)" font-size="30.0" fill="#000">6</text>
<text transform="translate(1228.67,869.30) scale(0.9000,1)" font-size="30.0" fill="#000">7</text>
<text transform="translate(931.36,903.80) scale(0.9535,1)" font-size="33.5" fill="#000" >Experimental Day</text>
<text transform="translate(758.60,845.43) rotate(-90) scale(0.9145,1)" font-size="33.5" fill="#000">Percent Risky Choices</text>
<text transform="translate(859.53,530.70) scale(0.8922,1)" font-size="33.5" fill="#000" >Risk-Seeking Rats + YFP</text>
<text transform="translate(692.65,519.20) scale(1.0202,1)" font-size="44.5" fill="#000" >D</text>
<rect x="334.2" y="1001.3" width="48.4" height="289.3" fill="#a9cdea" stroke="none" stroke-width="0" />
<rect x="456.1" y="1001.3" width="48.9" height="289.3" fill="#a9cdea" stroke="none" stroke-width="0" />
<line x1="143.3" y1="1000.7" x2="143.3" y2="1290.6" stroke="#000" stroke-width="5.4" stroke-linecap="round" />
<line x1="135.0" y1="1290.6" x2="577.3" y2="1290.6" stroke="#000" stroke-width="5.4" stroke-linecap="round" />
<line x1="135.0" y1="1290.6" x2="143.3" y2="1290.6" stroke="#000" stroke-width="5.1" stroke-linecap="round" />
<line x1="135.0" y1="1232.6" x2="143.3" y2="1232.6" stroke="#000" stroke-width="5.1" stroke-linecap="round" />
<line x1="135.0" y1="1174.6" x2="143.3" y2="1174.6" stroke="#000" stroke-width="5.1" stroke-linecap="round" />
<line x1="135.0" y1="1116.7" x2="143.3" y2="1116.7" stroke="#000" stroke-width="5.1" stroke-linecap="round" />
<line x1="135.0" y1="1058.7" x2="143.3" y2="1058.7" stroke="#000" stroke-width="5.1" stroke-linecap="round" />
<line x1="135.0" y1="1000.7" x2="143.3" y2="1000.7" stroke="#000" stroke-width="5.1" stroke-linecap="round" />
<line x1="173.9" y1="1290.6" x2="173.9" y2="1299.0" stroke="#000" stroke-width="5.1" stroke-linecap="round" />
<line x1="235.7" y1="1290.6" x2="235.7" y2="1299.0" stroke="#000" stroke-width="5.1" stroke-linecap="round" />
<line x1="297.4" y1="1290.6" x2="297.4" y2="1299.0" stroke="#000" stroke-width="5.1" stroke-linecap="round" />
<line x1="359.1" y1="1290.6" x2="359.1" y2="1299.0" stroke="#000" stroke-width="5.1" stroke-linecap="round" />
<line x1="420.9" y1="1290.6" x2="420.9" y2="1299.0" stroke="#000" stroke-width="5.1" stroke-linecap="round" />
<line x1="482.6" y1="1290.6" x2="482.6" y2="1299.0" stroke="#000" stroke-width="5.1" stroke-linecap="round" />
<line x1="544.4" y1="1290.6" x2="544.4" y2="1299.0" stroke="#000" stroke-width="5.1" stroke-linecap="round" />
<polyline points="173.0,1215.5 234.5,1201.5 296.7,1221.8 358.4,1197.6 420.4,1186.8 482.1,1195.3 544.3,1132.0" fill="none" stroke="#999999" stroke-width="4.6" stroke-linecap="round" stroke-linejoin="round"/>
<polyline points="173.0,1271.6 234.5,1265.9 296.7,1289.0 358.4,1244.0 420.4,1281.1 482.1,1265.5 544.3,1284.0" fill="none" stroke="#999999" stroke-width="4.6" stroke-linecap="round" stroke-linejoin="round"/>
<polyline points="173.0,1272.7 234.5,1269.3 296.7,1272.7 358.4,1272.7 420.4,1270.4 482.1,1271.6 544.3,1272.7" fill="none" stroke="#999999" stroke-width="4.6" stroke-linecap="round" stroke-linejoin="round"/>
<polyline points="173.0,1283.8 234.5,1284.7 296.7,1283.8 358.4,1283.3 420.4,1283.8 482.1,1282.9 544.3,1281.3" fill="none" stroke="#999999" stroke-width="4.6" stroke-linecap="round" stroke-linejoin="round"/>
<polyline points="173.0,1286.7 234.5,1287.6 296.7,1287.2 358.4,1288.1 420.4,1287.6 482.1,1286.7 544.3,1285.1" fill="none" stroke="#999999" stroke-width="4.6" stroke-linecap="round" stroke-linejoin="round"/>
<polyline points="173.0,1289.7 234.5,1290.3 296.7,1290.3 358.4,1289.9 420.4,1290.3 482.1,1289.9 544.3,1289.0" fill="none" stroke="#999999" stroke-width="4.6" stroke-linecap="round" stroke-linejoin="round"/>
<polyline points="173.0,1291.5 234.5,1291.5 296.7,1291.7 358.4,1291.5 420.4,1291.7 482.1,1291.5 544.3,1290.8" fill="none" stroke="#999999" stroke-width="4.6" stroke-linecap="round" stroke-linejoin="round"/>
<line x1="173.0" y1="1271.1" x2="173.0" y2="1286.7" stroke="#231f20" stroke-width="5.3" stroke-linecap="round" />
<line x1="234.5" y1="1264.8" x2="234.5" y2="1284.0" stroke="#231f20" stroke-width="5.3" stroke-linecap="round" />
<line x1="296.7" y1="1272.7" x2="296.7" y2="1287.4" stroke="#231f20" stroke-width="5.3" stroke-linecap="round" />
<line x1="358.4" y1="1261.4" x2="358.4" y2="1281.7" stroke="#231f20" stroke-width="5.3" stroke-linecap="round" />
<line x1="420.4" y1="1265.5" x2="420.4" y2="1287.4" stroke="#231f20" stroke-width="5.3" stroke-linecap="round" />
<line x1="482.1" y1="1264.8" x2="482.1" y2="1284.7" stroke="#231f20" stroke-width="5.3" stroke-linecap="round" />
<line x1="544.3" y1="1255.1" x2="544.3" y2="1288.5" stroke="#231f20" stroke-width="5.3" stroke-linecap="round" />
<polyline points="173.0,1279.0 234.5,1274.5 296.7,1279.9 358.4,1271.6 420.4,1276.1 482.1,1274.5 544.3,1271.1" fill="none" stroke="#231f20" stroke-width="5.2" stroke-linecap="round" stroke-linejoin="round"/>
<text transform="translate(117.03,1298.50) scale(0.9000,1)" font-size="30.0" fill="#000">0</text>
<text transform="translate(102.04,1240.52) scale(0.9000,1)" font-size="30.0" fill="#000">20</text>
<text transform="translate(102.04,1182.54) scale(0.9000,1)" font-size="30.0" fill="#000">40</text>
<text transform="translate(102.04,1124.56) scale(0.9000,1)" font-size="30.0" fill="#000">60</text>
<text transform="translate(102.04,1066.58) scale(0.9000,1)" font-size="30.0" fill="#000">80</text>
<text transform="translate(86.99,1008.60) scale(0.9000,1)" font-size="30.0" fill="#000">100</text>
<text transform="translate(166.34,1325.30) scale(0.9000,1)" font-size="30.0" fill="#000">1</text>
<text transform="translate(228.46,1325.30) scale(0.9000,1)" font-size="30.0" fill="#000">2</text>
<text transform="translate(290.27,1325.30) scale(0.9000,1)" font-size="30.0" fill="#000">3</text>
<text transform="translate(352.02,1325.30) scale(0.9000,1)" font-size="30.0" fill="#000">4</text>
<text transform="translate(413.71,1325.30) scale(0.9000,1)" font-size="30.0" fill="#000">5</text>
<text transform="translate(475.36,1325.30) scale(0.9000,1)" font-size="30.0" fill="#000">6</text>
<text transform="translate(537.17,1325.30) scale(0.9000,1)" font-size="30.0" fill="#000">7</text>
<text transform="translate(239.35,1359.60) scale(0.9577,1)" font-size="33.5" fill="#000" >Experimental Day</text>
<text transform="translate(80.50,1307.04) rotate(-90) scale(0.9175,1)" font-size="33.5" fill="#000">Percent Risky Choices</text>
<text transform="translate(169.92,979.80) scale(0.8976,1)" font-size="33.5" fill="#000" >Risk-Averse Rats + eChR2</text>
<text transform="translate(1.71,944.50) scale(0.7882,1)" font-size="44.5" fill="#000" >F</text>
<rect x="1024.8" y="1007.6" width="48.0" height="288.4" fill="#a9cdea" stroke="none" stroke-width="0" />
<rect x="1146.3" y="1007.6" width="48.6" height="288.4" fill="#a9cdea" stroke="none" stroke-width="0" />
<polyline points="864.3,1219.5 926.5,1198.5 988.7,1207.6 1050.9,1247.8 1112.6,1172.7 1174.1,1198.1 1236.3,1203.7" fill="none" stroke="#999999" stroke-width="4.6" stroke-linecap="round" stroke-linejoin="round"/>
<polyline points="864.3,1219.5 926.5,1231.5 988.7,1175.9 1050.9,1204.8 1112.6,1172.7 1174.1,1230.9 1236.3,1200.3" fill="none" stroke="#999999" stroke-width="4.6" stroke-linecap="round" stroke-linejoin="round"/>
<polyline points="864.3,1268.2 926.5,1279.5 988.7,1267.0 1050.9,1234.2 1112.6,1230.2 1174.1,1226.3 1236.3,1216.2" fill="none" stroke="#999999" stroke-width="4.6" stroke-linecap="round" stroke-linejoin="round"/>
<polyline points="864.3,1281.7 926.5,1265.9 988.7,1263.6 1050.9,1236.5 1112.6,1186.8 1174.1,1255.7 1236.3,1202.6" fill="none" stroke="#999999" stroke-width="4.6" stroke-linecap="round" stroke-linejoin="round"/>
<polyline points="864.3,1272.7 926.5,1275.0 988.7,1268.2 1050.9,1253.5 1112.6,1263.6 1174.1,1252.3 1236.3,1239.9" fill="none" stroke="#999999" stroke-width="4.6" stroke-linecap="round" stroke-linejoin="round"/>
<polyline points="864.3,1284.0 926.5,1288.5 988.7,1277.2 1050.9,1288.5 1112.6,1279.5 1174.1,1259.1 1236.3,1247.8" fill="none" stroke="#999999" stroke-width="4.6" stroke-linecap="round" stroke-linejoin="round"/>
<polyline points="864.3,1288.5 926.5,1284.0 988.7,1270.4 1050.9,1286.3 1112.6,1289.7 1174.1,1293.0 1236.3,1291.9" fill="none" stroke="#999999" stroke-width="4.6" stroke-linecap="round" stroke-linejoin="round"/>
<polyline points="864.3,1290.8 926.5,1290.8 988.7,1290.8 1050.9,1288.5 1112.6,1263.6 1174.1,1259.1 1236.3,1201.5" fill="none" stroke="#999999" stroke-width="4.6" stroke-linecap="round" stroke-linejoin="round"/>
<polyline points="864.3,1275.0 926.5,1277.2 988.7,1265.9 1050.9,1238.8 1112.6,1172.7 1174.1,1227.5 1236.3,1200.3" fill="none" stroke="#999999" stroke-width="4.6" stroke-linecap="round" stroke-linejoin="round"/>
<line x1="831.5" y1="1007.3" x2="831.5" y2="1296.0" stroke="#000" stroke-width="5.4" stroke-linecap="round" />
<line x1="823.0" y1="1296.0" x2="1266.0" y2="1296.0" stroke="#000" stroke-width="5.4" stroke-linecap="round" />
<line x1="823.2" y1="1296.0" x2="831.5" y2="1296.0" stroke="#000" stroke-width="5.1" stroke-linecap="round" />
<line x1="823.2" y1="1238.3" x2="831.5" y2="1238.3" stroke="#000" stroke-width="5.1" stroke-linecap="round" />
<line x1="823.2" y1="1180.5" x2="831.5" y2="1180.5" stroke="#000" stroke-width="5.1" stroke-linecap="round" />
<line x1="823.2" y1="1122.8" x2="831.5" y2="1122.8" stroke="#000" stroke-width="5.1" stroke-linecap="round" />
<line x1="823.2" y1="1065.0" x2="831.5" y2="1065.0" stroke="#000" stroke-width="5.1" stroke-linecap="round" />
<line x1="823.2" y1="1007.3" x2="831.5" y2="1007.3" stroke="#000" stroke-width="5.1" stroke-linecap="round" />
<line x1="862.1" y1="1296.0" x2="862.1" y2="1304.4" stroke="#000" stroke-width="5.1" stroke-linecap="round" />
<line x1="924.0" y1="1296.0" x2="924.0" y2="1304.4" stroke="#000" stroke-width="5.1" stroke-linecap="round" />
<line x1="985.9" y1="1296.0" x2="985.9" y2="1304.4" stroke="#000" stroke-width="5.1" stroke-linecap="round" />
<line x1="1047.8" y1="1296.0" x2="1047.8" y2="1304.4" stroke="#000" stroke-width="5.1" stroke-linecap="round" />
<line x1="1109.7" y1="1296.0" x2="1109.7" y2="1304.4" stroke="#000" stroke-width="5.1" stroke-linecap="round" />
<line x1="1171.6" y1="1296.0" x2="1171.6" y2="1304.4" stroke="#000" stroke-width="5.1" stroke-linecap="round" />
<line x1="1233.5" y1="1296.0" x2="1233.5" y2="1304.4" stroke="#000" stroke-width="5.1" stroke-linecap="round" />
<line x1="862.5" y1="1267.0" x2="862.5" y2="1284.0" stroke="#000" stroke-width="5.3" stroke-linecap="round" />
<line x1="924.2" y1="1268.2" x2="924.2" y2="1285.1" stroke="#000" stroke-width="5.3" stroke-linecap="round" />
<line x1="985.9" y1="1258.4" x2="985.9" y2="1281.3" stroke="#000" stroke-width="5.3" stroke-linecap="round" />
<line x1="1047.5" y1="1261.4" x2="1047.5" y2="1280.2" stroke="#000" stroke-width="5.3" stroke-linecap="round" />
<line x1="1109.7" y1="1244.4" x2="1109.7" y2="1272.7" stroke="#000" stroke-width="5.3" stroke-linecap="round" />
<line x1="1171.4" y1="1258.0" x2="1171.4" y2="1277.2" stroke="#000" stroke-width="5.3" stroke-linecap="round" />
<line x1="1232.9" y1="1246.7" x2="1232.9" y2="1271.6" stroke="#000" stroke-width="5.3" stroke-linecap="round" />
<polyline points="862.5,1276.1 924.2,1276.1 985.9,1270.4 1047.5,1270.4 1109.7,1258.0 1171.4,1266.4 1232.9,1259.1" fill="none" stroke="#000" stroke-width="5.2" stroke-linecap="round" stroke-linejoin="round"/>
<text transform="translate(797.53,1307.40) scale(0.9000,1)" font-size="30.0" fill="#000">0</text>
<text transform="translate(782.54,1249.66) scale(0.9000,1)" font-size="30.0" fill="#000">20</text>
<text transform="translate(782.54,1191.92) scale(0.9000,1)" font-size="30.0" fill="#000">40</text>
<text transform="translate(782.54,1134.18) scale(0.9000,1)" font-size="30.0" fill="#000">60</text>
<text transform="translate(782.54,1076.44) scale(0.9000,1)" font-size="30.0" fill="#000">80</text>
<text transform="translate(767.49,1018.70) scale(0.9000,1)" font-size="30.0" fill="#000">100</text>
<text transform="translate(853.74,1328.70) scale(0.9000,1)" font-size="30.0" fill="#000">1</text>
<text transform="translate(916.01,1328.70) scale(0.9000,1)" font-size="30.0" fill="#000">2</text>
<text transform="translate(977.98,1328.70) scale(0.9000,1)" font-size="30.0" fill="#000">3</text>
<text transform="translate(1039.88,1328.70) scale(0.9000,1)" font-size="30.0" fill="#000">4</text>
<text transform="translate(1101.71,1328.70) scale(0.9000,1)" font-size="30.0" fill="#000">5</text>
<text transform="translate(1163.51,1328.70) scale(0.9000,1)" font-size="30.0" fill="#000">6</text>
<text transform="translate(1225.47,1328.70) scale(0.9000,1)" font-size="30.0" fill="#000">7</text>
<text transform="translate(927.56,1363.20) scale(0.9551,1)" font-size="33.5" fill="#000" >Experimental Day</text>
<text transform="translate(758.50,1315.83) rotate(-90) scale(0.9157,1)" font-size="33.5" fill="#000">Percent Risky Choices</text>
<text transform="translate(854.45,989.00) scale(0.8856,1)" font-size="33.5" fill="#000" >Risk-Averse Rats + YFP</text>
<text transform="translate(694.39,943.70) scale(0.8575,1)" font-size="44.5" fill="#000" >G</text>
<rect x="1629.75" y="606.70" width="166.00" height="70.30" fill="#ed1c24"/>
<path d="M1629.75,606.70 V677.00 H1795.75 V606.70" fill="none" stroke="#000" stroke-width="7" stroke-linecap="round" stroke-linejoin="round"/>
<rect x="1878.50" y="606.70" width="166.25" height="19.05" fill="#ed1c24"/>
<path d="M1878.50,606.70 V625.75 H2044.75 V606.70" fill="none" stroke="#000" stroke-width="7" stroke-linecap="round" stroke-linejoin="round"/>
<line x1="1582.5" y1="523.5" x2="1582.5" y2="862.6" stroke="#000" stroke-width="5.4" stroke-linecap="round" />
<line x1="1572.7" y1="523.5" x2="1582.5" y2="523.5" stroke="#000" stroke-width="5.0" stroke-linecap="round" />
<line x1="1572.7" y1="608.2" x2="1582.5" y2="608.2" stroke="#000" stroke-width="5.0" stroke-linecap="round" />
<line x1="1572.7" y1="693.0" x2="1582.5" y2="693.0" stroke="#000" stroke-width="5.0" stroke-linecap="round" />
<line x1="1572.7" y1="777.9" x2="1582.5" y2="777.9" stroke="#000" stroke-width="5.0" stroke-linecap="round" />
<line x1="1572.7" y1="862.6" x2="1582.5" y2="862.6" stroke="#000" stroke-width="5.0" stroke-linecap="round" />
<line x1="1582.5" y1="608.2" x2="2091.3" y2="608.2" stroke="#000" stroke-width="5.7" stroke-linecap="round" />
<line x1="1712.5" y1="641.2" x2="1712.5" y2="713.0" stroke="#000" stroke-width="7.5" stroke-linecap="butt" />
<line x1="1671.5" y1="641.2" x2="1754.0" y2="641.2" stroke="#000" stroke-width="8" stroke-linecap="round" />
<line x1="1671.5" y1="713.0" x2="1754.0" y2="713.0" stroke="#000" stroke-width="8" stroke-linecap="round" />
<line x1="1712.5" y1="608.0" x2="1712.5" y2="617.0" stroke="#000" stroke-width="5.5" stroke-linecap="round" />
<rect x="1917" y="614.3" width="90" height="21.8" rx="4" fill="#000"/>
<line x1="1921.0" y1="618.2" x2="2003.0" y2="618.2" stroke="#000" stroke-width="8" stroke-linecap="round" />
<line x1="1921.0" y1="632.0" x2="2003.0" y2="632.0" stroke="#000" stroke-width="8" stroke-linecap="round" />
<line x1="1962.0" y1="608.0" x2="1962.0" y2="615.0" stroke="#000" stroke-width="5.5" stroke-linecap="round" />
<line x1="1703.2" y1="580.8" x2="1971.2" y2="580.8" stroke="#2b2b2b" stroke-width="5" stroke-linecap="butt" />
<text transform="translate(1828.95,586.20) scale(1.0000,1)" font-size="40.0" fill="#000">*</text>
<text transform="translate(1536.04,528.25) scale(0.9000,1)" font-size="30.0" fill="#000">20</text>
<text transform="translate(1551.03,615.95) scale(0.9000,1)" font-size="30.0" fill="#000">0</text>
<text transform="translate(1527.00,703.45) scale(0.9000,1)" font-size="30.0" fill="#000">-20</text>
<text transform="translate(1527.00,789.55) scale(0.9000,1)" font-size="30.0" fill="#000">-40</text>
<text transform="translate(1527.00,876.25) scale(0.9000,1)" font-size="30.0" fill="#000">-60</text>
<text transform="translate(1474.70,817.61) rotate(-90) scale(0.9601,1)" font-size="33.5" fill="#000">Change in percent</text>
<text transform="translate(1515.40,785.81) rotate(-90) scale(0.9088,1)" font-size="33.5" fill="#000">Risky Choices</text>
<text transform="translate(1657.00,896.00) rotate(-45) scale(0.8755,1) translate(-1.25,0)" font-size="29.5" fill="#000">eChR2</text>
<text transform="translate(1927.30,880.70) rotate(-45) scale(0.8659,1) translate(-1.25,0)" font-size="29.5" fill="#000">eYFP</text>
<text transform="translate(1428.92,519.30) scale(0.7580,1)" font-size="44.5" fill="#000" >E</text>
<rect x="1616.25" y="1065.50" width="168.75" height="10.00" fill="#000" stroke="#000" stroke-width="5" stroke-linejoin="round"/>
<rect x="1865.50" y="1065.50" width="168.75" height="10.00" fill="#000" stroke="#000" stroke-width="5" stroke-linejoin="round"/>
<line x1="1570.0" y1="989.0" x2="1570.0" y2="1328.2" stroke="#000" stroke-width="5.4" stroke-linecap="round" />
<line x1="1560.6" y1="989.0" x2="1570.0" y2="989.0" stroke="#000" stroke-width="5.0" stroke-linecap="round" />
<line x1="1560.6" y1="1073.8" x2="1570.0" y2="1073.8" stroke="#000" stroke-width="5.0" stroke-linecap="round" />
<line x1="1560.6" y1="1158.5" x2="1570.0" y2="1158.5" stroke="#000" stroke-width="5.0" stroke-linecap="round" />
<line x1="1560.6" y1="1243.3" x2="1570.0" y2="1243.3" stroke="#000" stroke-width="5.0" stroke-linecap="round" />
<line x1="1560.6" y1="1328.2" x2="1570.0" y2="1328.2" stroke="#000" stroke-width="5.0" stroke-linecap="round" />
<line x1="1570.0" y1="1073.8" x2="2080.0" y2="1073.8" stroke="#000" stroke-width="5.4" stroke-linecap="round" />
<line x1="1659.5" y1="1061.0" x2="1742.2" y2="1061.0" stroke="#000" stroke-width="8" stroke-linecap="round" />
<line x1="1908.5" y1="1060.5" x2="1991.5" y2="1060.5" stroke="#000" stroke-width="8" stroke-linecap="round" />
<line x1="1699.5" y1="1070.0" x2="1699.5" y2="1083.5" stroke="#000" stroke-width="6.5" stroke-linecap="round" />
<line x1="1951.2" y1="1070.0" x2="1951.2" y2="1083.5" stroke="#000" stroke-width="6.5" stroke-linecap="round" />
<text transform="translate(1524.34,994.45) scale(0.9000,1)" font-size="30.0" fill="#000">20</text>
<text transform="translate(1539.33,1081.45) scale(0.9000,1)" font-size="30.0" fill="#000">0</text>
<text transform="translate(1514.20,1168.95) scale(0.9000,1)" font-size="30.0" fill="#000">-20</text>
<text transform="translate(1514.20,1255.05) scale(0.9000,1)" font-size="30.0" fill="#000">-40</text>
<text transform="translate(1514.20,1341.75) scale(0.9000,1)" font-size="30.0" fill="#000">-60</text>
<text transform="translate(1461.70,1283.31) rotate(-90) scale(0.9627,1)" font-size="33.5" fill="#000">Change in percent</text>
<text transform="translate(1502.70,1251.51) rotate(-90) scale(0.9074,1)" font-size="33.5" fill="#000">Risky Choices</text>
<text transform="translate(1648.00,1358.00) rotate(-45) scale(0.8755,1) translate(-1.25,0)" font-size="29.5" fill="#000">eChR2</text>
<text transform="translate(1917.30,1341.70) rotate(-45) scale(0.8659,1) translate(-1.25,0)" font-size="29.5" fill="#000">eYFP</text>
<text transform="translate(1428.10,945.00) scale(0.9795,1)" font-size="44.5" fill="#000" >H</text>
</svg>
</body></html>
